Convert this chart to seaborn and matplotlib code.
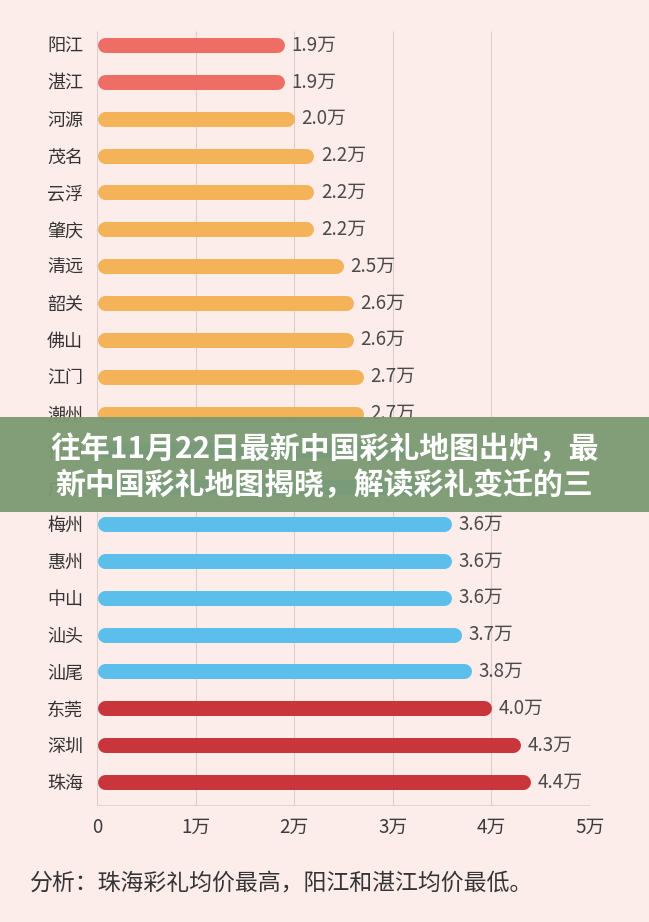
import matplotlib
matplotlib.use("Agg")
import matplotlib.pyplot as plt
import seaborn as sns
import pandas as pd
from matplotlib.patches import Rectangle

cities = ["阳江", "湛江", "河源", "茂名", "云浮", "肇庆", "清远", "韶关", "佛山", "江门",
          "潮州", "揭阳", "广州", "梅州", "惠州", "中山", "汕头", "汕尾", "东莞", "深圳", "珠海"]
values = [1.9, 1.9, 2.0, 2.2, 2.2, 2.2, 2.5, 2.6, 2.6, 2.7,
          2.7, 3.2, 3.5, 3.6, 3.6, 3.6, 3.7, 3.8, 4.0, 4.3, 4.4]
groups = ["low"] * 2 + ["mid"] * 9 + ["high"] * 7 + ["top"] * 3
hidden = ["揭阳", "广州"]  # value labels covered by the banner in the reference
group_colors = {"low": "#EE6E66", "mid": "#F4B259", "high": "#5BBEEB", "top": "#C8363B"}
x_ticks = [0, 1, 2, 3, 4, 5]
x_tick_labels = ["0", "1万", "2万", "3万", "4万", "5万"]
title_lines = ["往年11月22日最新中国彩礼地图出炉，最", "新中国彩礼地图揭晓，解读彩礼变迁的三"]
note = "分析：珠海彩礼均价最高，阳江和湛江均价最低。"

BG = "#FDEDEA"
sns.set_theme(style="white")
plt.rcParams["font.family"] = ["Noto Sans CJK SC", "DejaVu Sans"]

df = pd.DataFrame({"city": cities, "value": values, "group": groups})

fig = plt.figure(figsize=(6.49, 9.22), dpi=100, facecolor=BG)
ax = fig.add_axes([97 / 649, 1 - 806 / 922, 493 / 649, (806 - 31) / 922])
ax.set_facecolor(BG)

sns.barplot(data=df, y="city", x="value", hue="group", palette=group_colors,
            orient="h", width=0.41, dodge=False, legend=False, saturation=1, ax=ax)

# convert rectangles to rounded bars
px_per_x = 493 / 5.0
lw_px = 15
r = (lw_px / 2) / px_per_x
for patch in list(ax.patches):
    w = patch.get_width()
    if w <= 0:
        continue
    x0 = patch.get_x()
    yc = patch.get_y() + patch.get_height() / 2
    col = patch.get_facecolor()
    patch.set_visible(False)
    ax.plot([x0 + r, x0 + w - r], [yc, yc], color=col, lw=lw_px * 0.72,
            solid_capstyle="round", zorder=3)
    idx = int(round(yc))
    if cities[idx] in hidden:
        continue
    ax.annotate(f"{w:.1f}万", xy=(x0 + w, yc), xytext=(5, 0), textcoords="offset points",
                ha="left", va="center", fontsize=13.5, color="#4a4a4a", zorder=4)

ax.set_ylim(20.65, -0.38)
ax.set_xlim(0, 5)
for s in ax.spines.values():
    s.set_visible(False)
ax.vlines(x_ticks, -0.38, 20.65, color="#D9CFCF", lw=0.8, zorder=1)
ax.hlines(20.65, 0, 5, color="#D9CFCF", lw=1.2, zorder=1)

ax.set_xticks(x_ticks)
ax.set_xticklabels(x_tick_labels)
ax.tick_params(axis="x", length=0, pad=8, labelsize=13.5, labelcolor="#3a3a3a")
ax.tick_params(axis="y", length=0, pad=10, labelsize=13, labelcolor="#333333")
ax.set_xlabel("")
ax.set_ylabel("")

# banner overlay
fig.patches.append(Rectangle((0, 1 - 512 / 922), 1, 95 / 922, transform=fig.transFigure,
                             facecolor="#7B9A73", alpha=0.95, edgecolor="none", zorder=10))
fig.text(0.5, 1 - 449 / 922, title_lines[0], ha="center", va="center", fontsize=21.5,
         fontweight="bold", color="white", zorder=11)
fig.text(0.5, 1 - 485 / 922, title_lines[1], ha="center", va="center", fontsize=21.5,
         fontweight="bold", color="white", zorder=11)

fig.text(30 / 649, 1 - 884 / 922, note, ha="left", va="center", fontsize=16.5, color="#333333")

fig.savefig("out.png", dpi=100, facecolor=BG)
